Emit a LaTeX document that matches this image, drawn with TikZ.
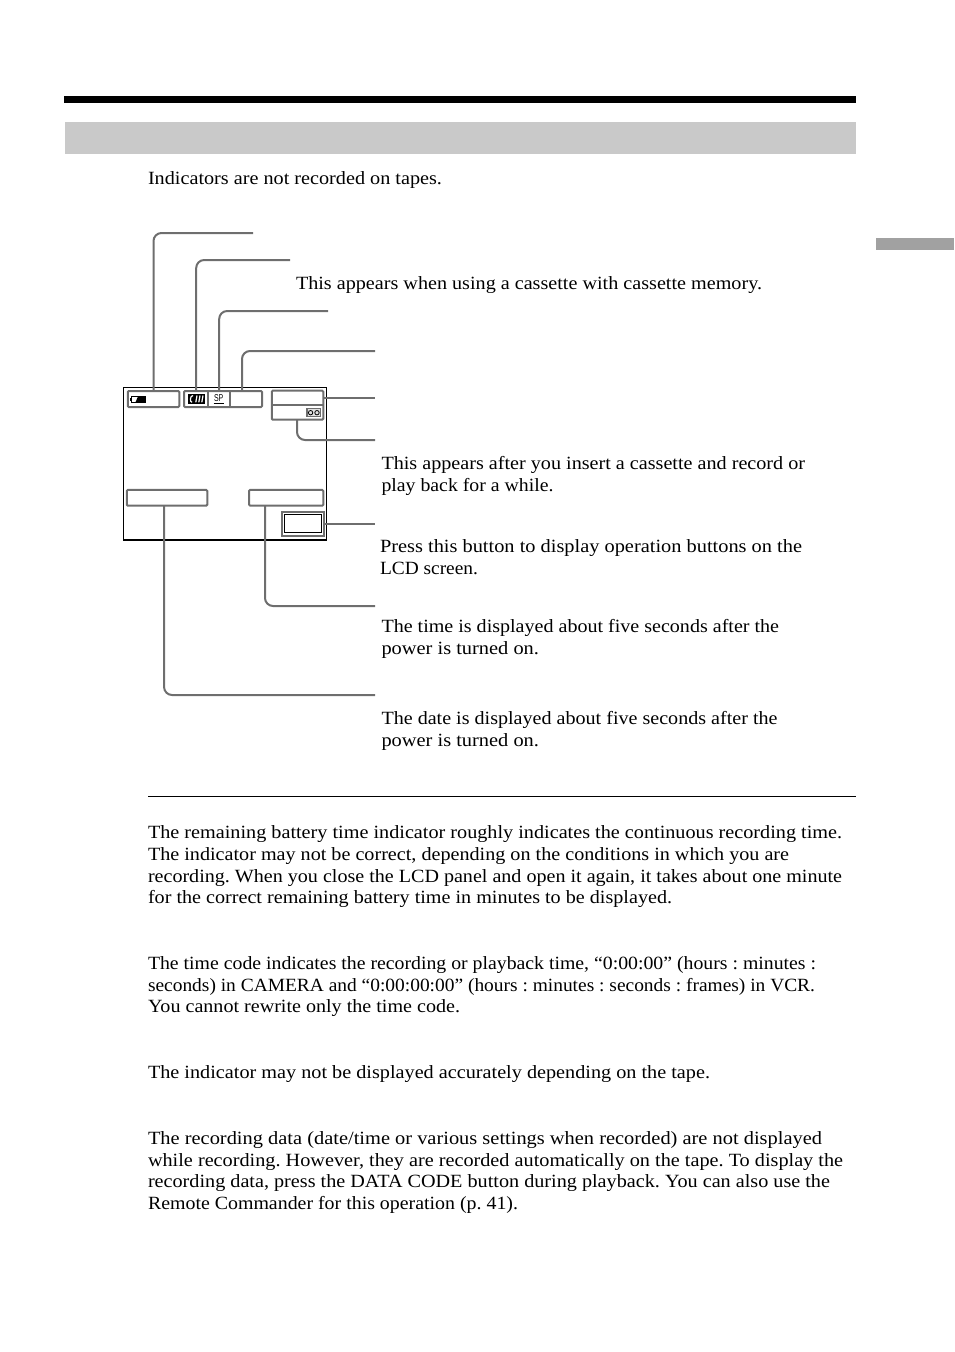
\documentclass[tikz,border=0pt]{standalone}
\usepackage{graphicx}
\usepackage{fontspec}
\setmainfont[FakeStretch=1.09]{Liberation Serif}
\newfontfamily\spfont{Liberation Sans}
\definecolor{conngray}{HTML}{6E6E6E}
\newcommand\fitline[2]{\resizebox{#1\dimexpr 0.75pt\relax}{\height}{#2}}
\frenchspacing
\tikzset{
  px/.style={x=0.75pt,y=-0.75pt},
  txt/.style={anchor=base west,inner sep=0pt,outer sep=0pt,font=\fontsize{14}{14}\selectfont,text=black},
  ibox/.style={draw=conngray,line width=1.5pt,rounded corners=0.8pt,inner sep=0pt,outer sep=0pt},
  cell/.style={inner sep=0pt,outer sep=0pt},
  conn/.style={draw=conngray,line width=1.5pt,rounded corners=6pt},
}
\begin{document}
\begin{tikzpicture}[px]
\useasboundingbox (0,0) rectangle (954,1352);
% page furniture
\fill[black] (64,96) rectangle (856,103);
\fill[black!21] (65,122) rectangle (856,154);
\fill[black!37] (876,238) rectangle (954,250);
\draw[black,line width=0.75pt] (148,796.5) -- (856,796.5);
% screen
\draw[black,line width=0.75pt] (123.5,540) -- (123.5,387.8) -- (326.2,387.8) -- (326.2,540);
\draw[black,line width=1.5pt] (123,540) -- (326.7,540);
% indicator boxes
\node[ibox,minimum width=51.5*0.75pt,minimum height=16*0.75pt] (batt) at (153.5,399) {};
\node[ibox,minimum width=78*0.75pt,minimum height=16*0.75pt] (mode) at (223,399) {};
\node[cell,minimum width=24*0.75pt,minimum height=16*0.75pt] (cm) at (196.2,399) {};
\node[cell,minimum width=22*0.75pt,minimum height=16*0.75pt] (sp) at (219.2,399) {};
\node[cell,minimum width=32*0.75pt,minimum height=16*0.75pt] (third) at (246,399) {};
\draw[conngray,line width=1.5pt] (cm.north east) -- (cm.south east);
\draw[conngray,line width=1.5pt] (sp.north east) -- (sp.south east);
\node[ibox,minimum width=51.5*0.75pt,minimum height=29*0.75pt] (tc) at (297.5,405.2) {};
\draw[conngray,line width=1.5pt] (tc.west) -- (tc.east);
\node[ibox,minimum width=80.5*0.75pt,minimum height=15.7*0.75pt] (datebox) at (167,497.8) {};
\node[ibox,minimum width=74.3*0.75pt,minimum height=15.7*0.75pt] (timebox) at (286.2,497.8) {};
\node[ibox,rounded corners=0pt,minimum width=42*0.75pt,minimum height=24*0.75pt] (btn) at (302.7,523.7) {};
\draw[black,line width=0.75pt] (284.3,514.3) rectangle (321,532.3);
% battery icon
\draw[black,line width=0.6pt] (131,396.3) rectangle (145,402.3);
\fill[black] (129.8,398) rectangle (131,400.6);
\fill[black] (138,396.3) -- (145,396.3) -- (145,402.3) -- (135.5,402.3) -- cycle;
% cassette memory icon
\fill[black] (187.7,394) rectangle (205,403.8);
\draw[white,line width=0.9pt] (193,395.5) .. controls (190,395.5) and (189.6,402.3) .. (192,402.3);
\draw[white,line width=0.9pt] (197,395.5) -- (195.8,402.3);
\draw[white,line width=0.9pt] (200,395.5) -- (198.8,402.3);
\draw[white,line width=0.9pt] (203,395.5) -- (201.8,402.3);
% SP icon
\node[inner sep=0pt,outer sep=0pt,font=\spfont\fontsize{6}{6}\selectfont] (sptext) at (218.7,398.3) {\resizebox{7pt}{5.2pt}{SP}};
\draw[black,line width=0.6pt] (213.5,403.3) -- (224,403.3);
% tape icon
\draw[conngray,fill=black!12,line width=1pt] (306.9,408.5) rectangle (320.8,416.8);
\draw[black,line width=0.6pt] (310.6,412.7) circle (2.2);
\draw[black,line width=0.6pt] (317,412.7) circle (2.2);
% free ends
\coordinate (e1) at (253,233);
\coordinate (e2) at (290,260);
\coordinate (e3) at (328,311);
\coordinate (e4) at (375,351);
\coordinate (e5) at (375,397.5);
\coordinate (e6) at (375,440);
\coordinate (e7) at (375,523.7);
\coordinate (e8) at (375,606);
\coordinate (e9) at (375,695);
% connectors
\draw[conn] (batt.north) |- (e1);
\draw[conn] (cm.north) |- (e2);
\draw[conn] (sp.north) |- (e3);
\draw[conn] ([xshift=-3pt]third.north) |- (e4);
\draw[conn] (tc.east |- e5) -- (e5);
\draw[conn] (297,419.7) |- (e6);
\draw[conn] (btn.east) -- (e7);
\draw[conn] ([xshift=-15.9pt]timebox.south) |- (e8);
\draw[conn] ([xshift=-2.2pt]datebox.south) |- (e9);
% text
\node[txt] (t1) at (148,185) {\fitline{294}{Indicators are not recorded on tapes.}};
\node[txt] (t2) at (296,289) {\fitline{466}{This appears when using a cassette with cassette memory.}};
\node[txt] (t3) at (381.5,469) {\fitline{423.5}{This appears after you insert a cassette and record or}};
\node[txt] (t4) at (381.5,491) {\fitline{172}{play back for a while.}};
\node[txt] (t5) at (380,552) {\fitline{422}{Press this button to display operation buttons on the}};
\node[txt] (t6) at (380,574) {\fitline{98}{LCD screen.}};
\node[txt] (t7) at (381.5,632) {\fitline{397.5}{The time is displayed about five seconds after the}};
\node[txt] (t8) at (381.5,654) {\fitline{157.5}{power is turned on.}};
\node[txt] (t9) at (381.5,724) {\fitline{396}{The date is displayed about five seconds after the}};
\node[txt] (t10) at (381.5,746) {\fitline{157.5}{power is turned on.}};
\node[txt] (p1) at (148,838) {\fitline{694}{The remaining battery time indicator roughly indicates the continuous recording time.}};
\node[txt] (p2) at (148,860) {\fitline{641}{The indicator may not be correct, depending on the conditions in which you are}};
\node[txt] (p3) at (148,882) {\fitline{694}{recording. When you close the LCD panel and open it again, it takes about one minute}};
\node[txt] (p4) at (148,903) {\fitline{524}{for the correct remaining battery time in minutes to be displayed.}};
\node[txt] (q1) at (148,969) {\fitline{668}{The time code indicates the recording or playback time, “0:00:00” (hours : minutes :}};
\node[txt] (q2) at (148,991) {\fitline{667}{seconds) in CAMERA and “0:00:00:00” (hours : minutes : seconds : frames) in VCR.}};
\node[txt] (q3) at (148,1012) {\fitline{312}{You cannot rewrite only the time code.}};
\node[txt] (r1) at (148,1078) {\fitline{562}{The indicator may not be displayed accurately depending on the tape.}};
\node[txt] (s1) at (148,1144) {\fitline{674}{The recording data (date/time or various settings when recorded) are not displayed}};
\node[txt] (s2) at (148,1166) {\fitline{695}{while recording. However, they are recorded automatically on the tape. To display the}};
\node[txt] (s3) at (148,1187) {\fitline{682}{recording data, press the DATA CODE button during playback. You can also use the}};
\node[txt] (s4) at (148,1209) {\fitline{370}{Remote Commander for this operation (p. 41).}};
\end{tikzpicture}
\end{document}
